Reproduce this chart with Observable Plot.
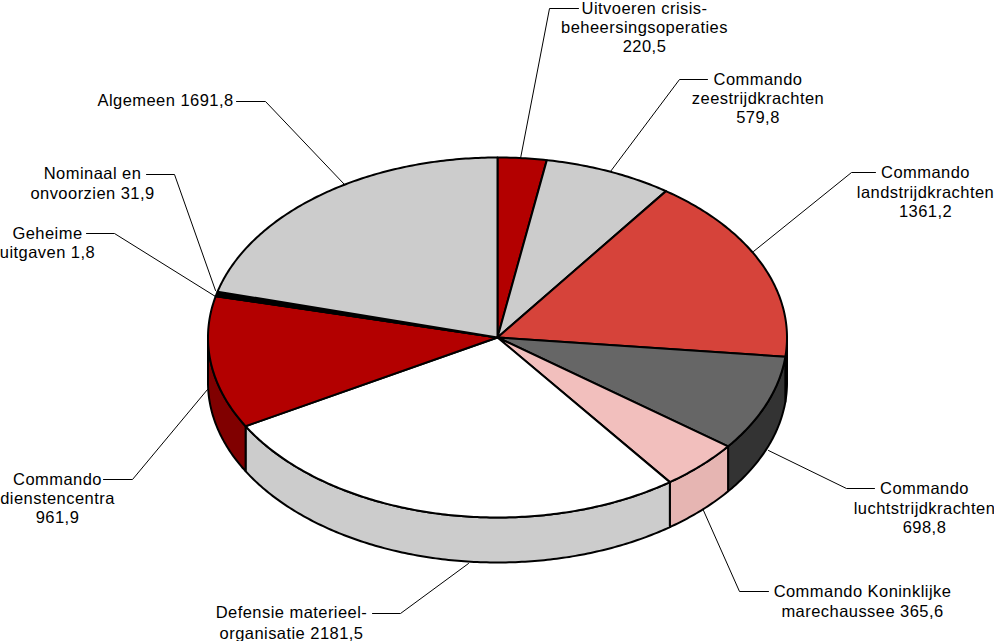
<!DOCTYPE html>
<html>
<head>
<meta charset="utf-8">
<script src="https://cdn.jsdelivr.net/npm/d3@7"></script>
<script src="https://cdn.jsdelivr.net/npm/@observablehq/plot@0.6"></script>
<style>html,body{margin:0;padding:0;background:#fff;overflow:hidden}svg{display:block}</style>
</head>
<body>
<div id="chart"></div>
<script>
const categories = ["Uitvoeren crisisbeheersingsoperaties","Commando zeestrijdkrachten","Commando landstrijdkrachten","Commando luchtstrijdkrachten","Commando Koninklijke marechaussee","Defensie materieel-organisatie","Commando dienstencentra","Geheime uitgaven","Nominaal en onvoorzien","Algemeen"];
const values = [220.5,579.8,1361.2,698.8,365.6,2181.5,961.9,1.8,31.9,1691.8];
const topColors = ["#b30000","#cccccc","#d6433a","#666666","#f2bfbd","#ffffff","#b30000","#000000","#000000","#cccccc"];
const sideColors = ["#800000","#999999","#a0322c","#333333","#e6b5b2","#cccccc","#800000","#000000","#000000","#999999"];
const labelLines = [
  [["Uitvoeren crisis-",644,8],["beheersingsoperaties",644,27],["220,5",644,46]],
  [["Commando",757.5,79],["zeestrijdkrachten",757.5,98],["579,8",757.5,117]],
  [["Commando",925,172],["landstrijdkrachten",925,192],["1361,2",925,211]],
  [["Commando",924,488],["luchtstrijdkrachten",924,508],["698,8",924,527]],
  [["Commando Koninklijke",862,591],["marechaussee 365,6",862,611]],
  [["Defensie materieel-",291,612],["organisatie 2181,5",291,633]],
  [["Commando",57,479],["dienstencentra",57,498],["961,9",57,517]],
  [["Geheime",47,233],["uitgaven 1,8",47,252]],
  [["Nominaal en",92,173],["onvoorzien 31,9",92,193]],
  [["Algemeen 1691,8",165,100]]
];
const leaders = [
  [[520,158],[549,8],[578,8]],
  [[610,171],[679,79],[707,79]],
  [[753,251],[851,172],[875,172]],
  [[768,450],[846,488],[874,488]],
  [[703,510],[739,591],[768,591]],
  [[468,563],[400,613],[372,613]],
  [[207,389],[132,479],[103,479]],
  [[215,296],[114,233],[86,233]],
  [[215,290],[174,174],[146,174]],
  [[344,184],[265,101],[236,101]]
];
const cx = 497, cy = 337, rx = 289.5, ry = 180, depth = 45;
const total = d3.sum(values);
const cumulative = d3.cumsum(values);
const rim = t => [cx + rx * Math.sin(t), cy - ry * Math.cos(t)];
const arc = (a, b) => {
  const n = Math.max(2, Math.ceil((b - a) * 90));
  return d3.range(n + 1).map(i => rim(a + (b - a) * i / n));
};
const slices = values.map((v, i) => {
  const a = (cumulative[i] - v) / total * 2 * Math.PI;
  const b = cumulative[i] / total * 2 * Math.PI;
  return {a, b};
});
const topPoly = ({a, b}) => { const e = arc(a, b); return [[cx, cy], ...e, [cx, cy]]; };
const sidePoly = ({a, b}) => {
  const lo = Math.max(a, Math.PI / 2), hi = Math.min(b, 3 * Math.PI / 2);
  if (hi <= lo) return null;
  const e = arc(lo, hi);
  const low = e.map(([x, y]) => [x, y + depth]).reverse();
  return [...e, ...low, e[0]];
};
const X = d => d[0], Y = d => d[1];
const marks = [];
slices.forEach((s, i) => {
  const p = sidePoly(s);
  if (p) marks.push(Plot.line(p, {x: X, y: Y, fill: sideColors[i], stroke: "#000", strokeWidth: 2, strokeLinejoin: "round"}));
});
slices.forEach((s, i) => {
  marks.push(Plot.line(topPoly(s), {x: X, y: Y, fill: topColors[i], stroke: "#000", strokeWidth: 2, strokeLinejoin: "round"}));
});
leaders.forEach(l => marks.push(Plot.line(l, {x: X, y: Y, stroke: "#000", strokeWidth: 1})));
marks.push(Plot.text(labelLines.flat(), {x: d => d[1], y: d => d[2], text: d => d[0], textAnchor: "middle", lineAnchor: "middle", fill: "#000", fontSize: 16.5, fontFamily: "Liberation Sans"}));
const chart = Plot.plot({
  width: 994, height: 641, margin: 0,
  x: {domain: [0, 994], range: [0, 994], axis: null},
  y: {domain: [0, 641], range: [0, 641], axis: null},
  style: {background: "#fff", letterSpacing: "0.45px"},
  marks
});
document.getElementById("chart").append(chart);
</script>
</body>
</html>
